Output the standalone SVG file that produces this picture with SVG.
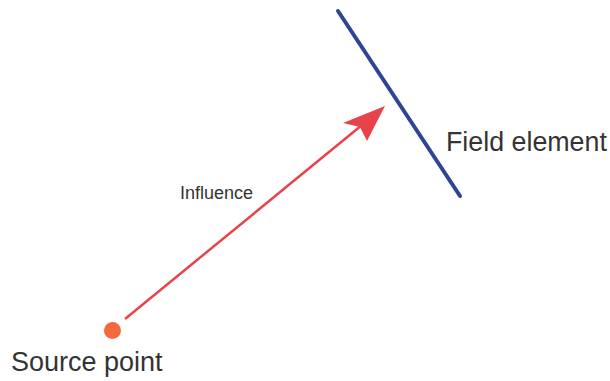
<svg xmlns="http://www.w3.org/2000/svg" width="610" height="381" viewBox="0 0 610 381">
<style>
text{font-family:"Liberation Sans",Arial,sans-serif;fill:#333}
</style>
<rect width="610" height="381" fill="#fff"/>
<g id="field-element">
<line x1="338" y1="11" x2="460" y2="196" stroke="#2e4596" stroke-width="4" stroke-linecap="round"/>
<text x="446" y="151" font-size="26.8">Field element</text>
</g>
<g id="source-point">
<circle cx="112.5" cy="330.5" r="8.5" fill="#f5683c"/>
<text x="11" y="371" font-size="27">Source point</text>
</g>
<g id="connectors">
<line x1="125" y1="319" x2="362" y2="125" stroke="#e8434b" stroke-width="2.5"/>
<polygon points="385,106 343,123 360,127 367,141" fill="#e8434b"/>
<text x="180" y="199" font-size="18">Influence</text>
</g>
</svg>
